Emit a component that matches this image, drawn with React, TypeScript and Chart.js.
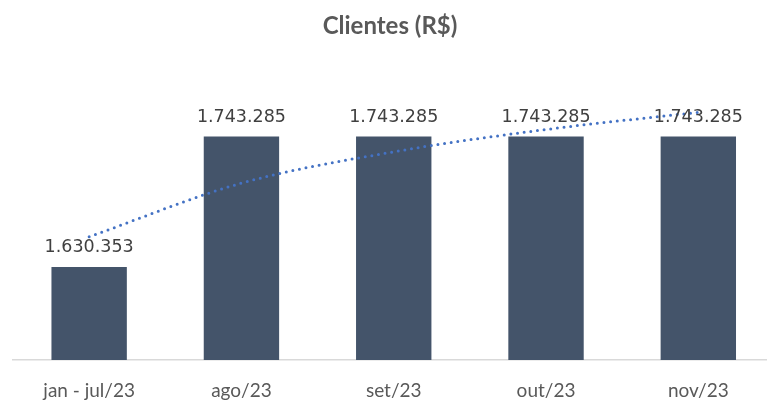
import React, { useEffect, useRef } from "react";
import { Chart, registerables } from "chart.js";

Chart.register(...registerables);

const categories = ["jan - jul/23", "ago/23", "set/23", "out/23", "nov/23"];
const clientValues = [1630353, 1743285, 1743285, 1743285, 1743285];
// dotted trend line, values at each category
const trendValues = [1656600, 1703000, 1730100, 1749400, 1764300];
const titleText = "Clientes (R$)";

const fmt = (v: number) =>
  String(Math.round(v)).replace(/\B(?=(\d{3})+(?!\d))/g, ".");

export default function App() {
  const ref = useRef<HTMLCanvasElement | null>(null);

  useEffect(() => {
    if (!ref.current) return;
    const labelPlugin = {
      id: "barLabels",
      afterDatasetsDraw(chart: any) {
        const ctx = chart.ctx;
        const meta = chart.getDatasetMeta(0);
        ctx.save();
        ctx.font = "17.5px 'DejaVu Sans'";
        ctx.fillStyle = "#404040";
        ctx.textAlign = "center";
        ctx.textBaseline = "alphabetic";
        meta.data.forEach((bar: any, i: number) => {
          ctx.fillText(fmt(clientValues[i]), bar.x, bar.y - 15);
        });
        ctx.restore();
      },
    };

    const chart = new Chart(ref.current, {
      type: "bar",
      data: {
        datasets: [
          {
            type: "bar",
            data: clientValues.map((v, i) => ({ x: i + 1, y: v })),
            backgroundColor: "#44546A",
            categoryPercentage: 1,
            barPercentage: 0.495,
            order: 1,
          } as any,
          {
            type: "line",
            data: trendValues.map((v, i) => ({ x: i + 1, y: v })),
            borderColor: "#4472C4",
            borderWidth: 3,
            borderDash: [0, 6.7],
            borderCapStyle: "round",
            pointRadius: 0,
            cubicInterpolationMode: "monotone",
            fill: false,
            order: 0,
          } as any,
        ],
      },
      options: {
        animation: false,
        responsive: false,
        layout: { padding: { left: 13, right: 0, top: 0, bottom: 0 } },
        plugins: {
          legend: { display: false },
          tooltip: { enabled: false },
          title: {
            display: true,
            text: titleText,
            color: "#595959",
            font: { family: "Lato", size: 24, weight: "bold", lineHeight: 1.2 },
            padding: { top: 12, bottom: 30.2 },
          },
        },
        scales: {
          x: {
            type: "linear",
            min: 0.5,
            max: 5.451,
            offset: false,
            grid: { display: false, drawTicks: false },
            border: { display: true, color: "#D9D9D9", width: 1.5 },
            afterBuildTicks: (scale: any) => {
              scale.ticks = categories.map((_, i) => ({ value: i + 1 }));
            },
            afterFit: (scale: any) => {
              scale.height = 40;
            },
            ticks: {
              padding: 19,
              color: "#595959",
              font: { family: "Lato", size: 19 },
              callback: (v: any) => categories[Number(v) - 1] ?? "",
            },
          },
          y: {
            display: false,
            min: 1550000,
            max: 1800000,
            beginAtZero: false,
          },
        },
      } as any,
      plugins: [labelPlugin],
    });
    return () => chart.destroy();
  }, []);

  return (
    <div style={{ position: "fixed", left: 0, top: 0, width: 767, height: 400, background: "#fff" }}>
      <canvas ref={ref} width={767} height={400} style={{ width: 767, height: 400 }} />
    </div>
  );
}
